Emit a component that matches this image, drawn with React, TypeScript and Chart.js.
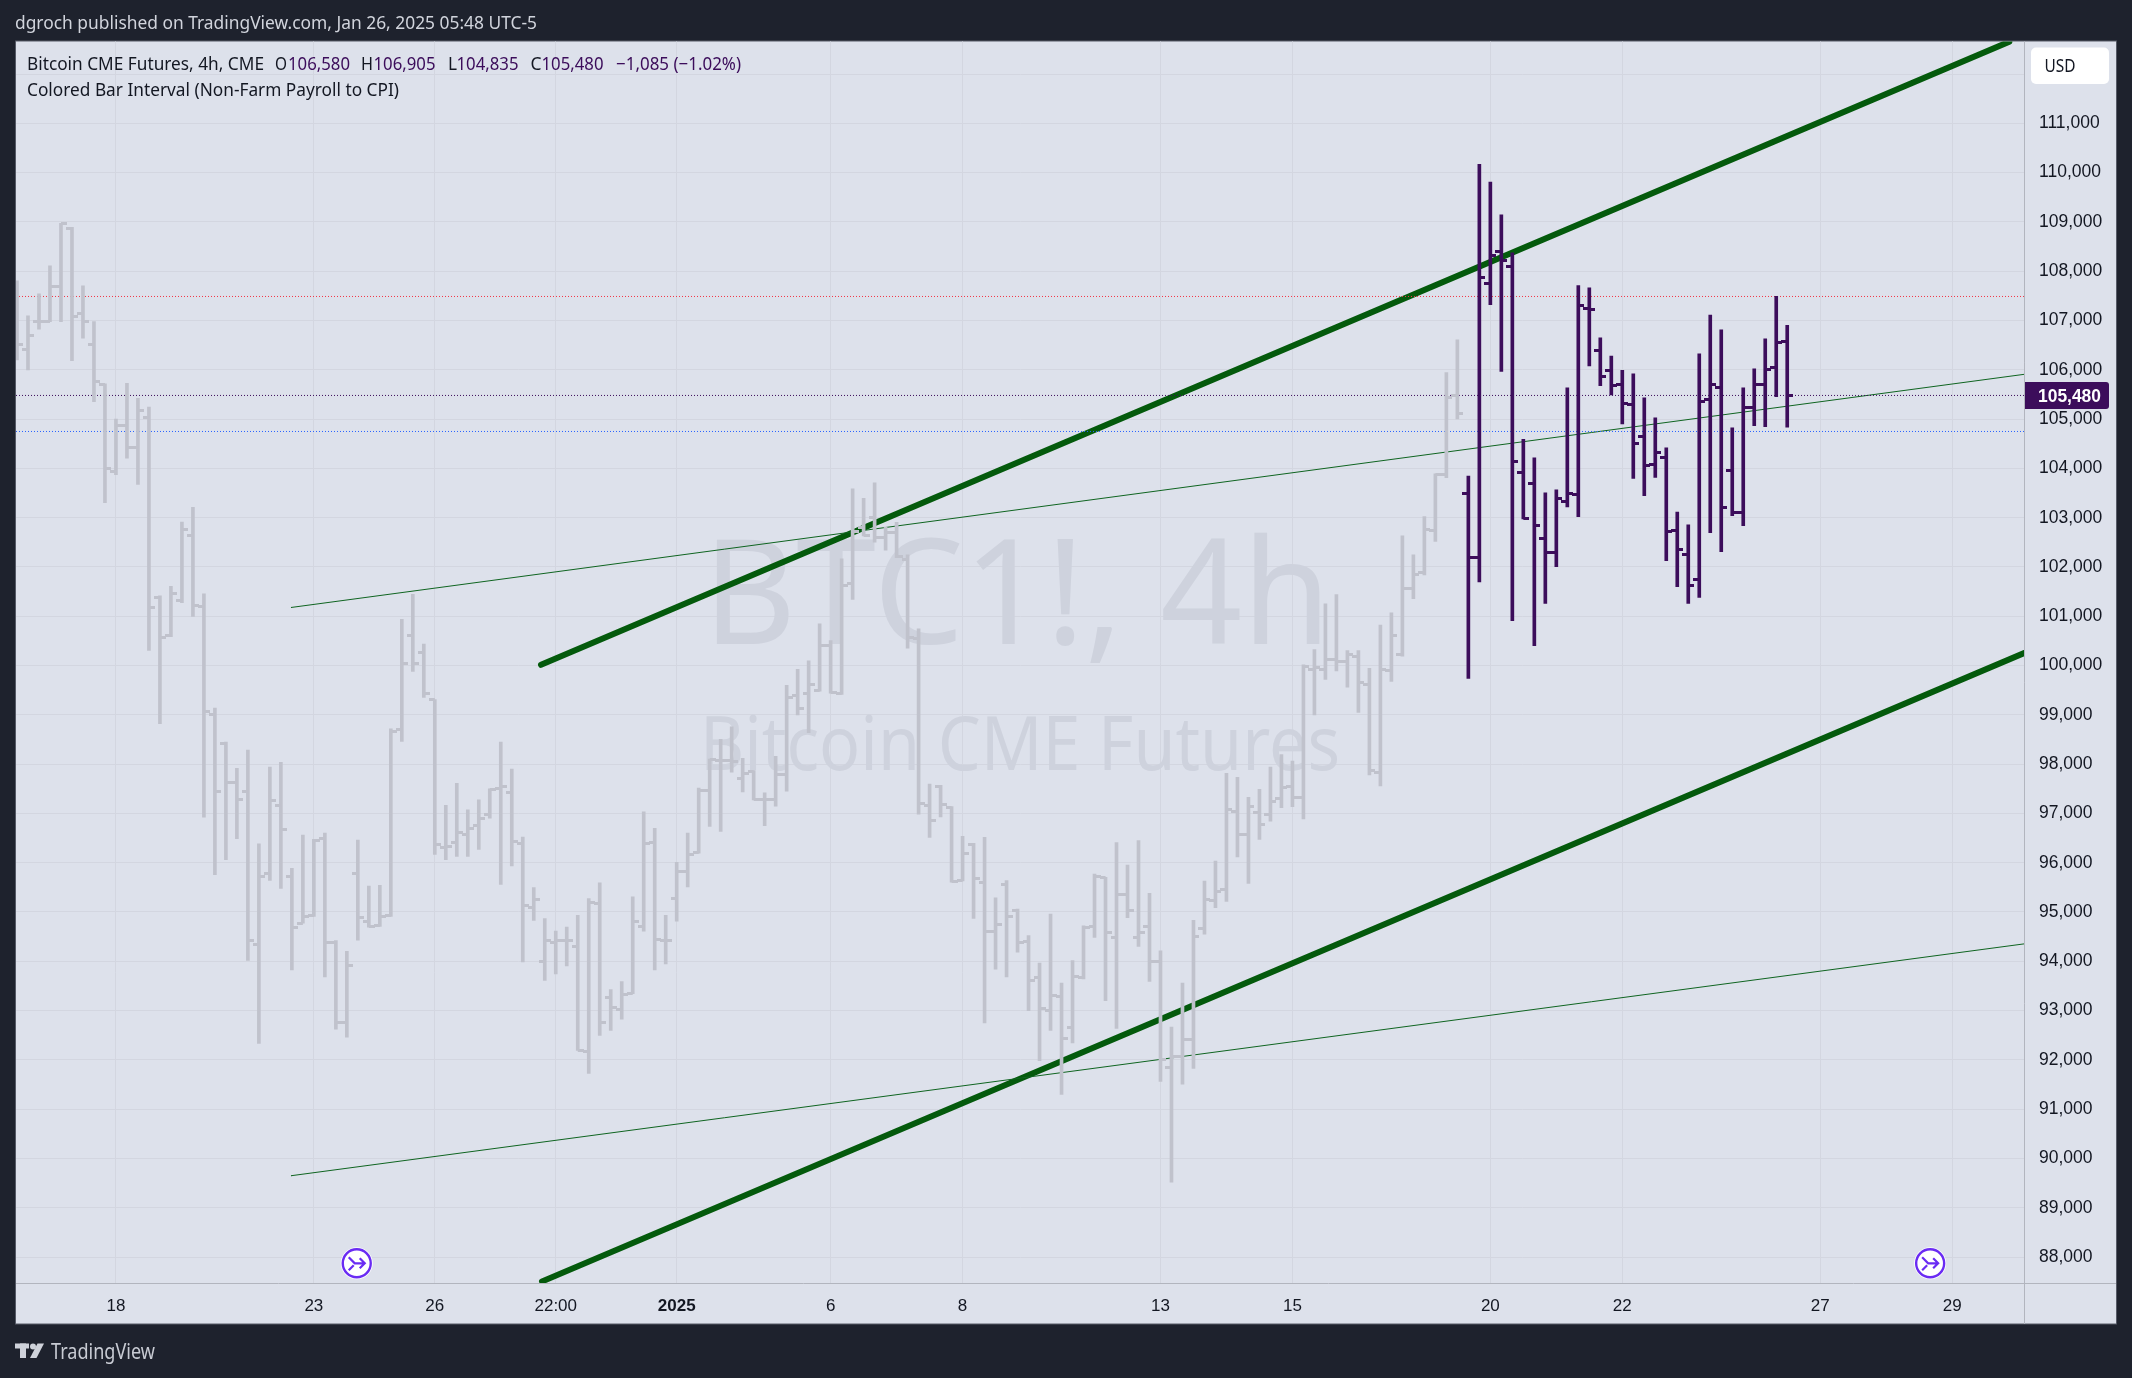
import React, { useEffect, useRef } from "react";
import { Chart, registerables } from "chart.js";

Chart.register(...registerables);

// Bars, oldest first (4h CME BTC1!). Index 132 onward is the coloured interval.
const opens = [
  106700,106404,106979,106979,107689,108872,107135,106506,105695,103931,104863,104423,105038,101390,100619,101325,
  102648,101205,98999,98414,97636,97435,94348,95791,97163,95727,94772,94925,96497,94372,92752,95791,
  94813,94732,94933,98694,100619,100274,99312,96312,96417,96577,96753,96970,97500,97419,96392,95085,
  93987,94388,94412,94307,92166,95174,93265,93024,93345,94708,96409,94428,95270,95815,96216,97475,
  98077,98077,97716,97860,97275,97291,97796,99384,99440,99496,100403,99440,101670,102809,103009,102608,
  102704,102151,100539,97170,97555,97130,95631,96369,95591,94612,95551,95029,94404,93666,92999,93285,
  92665,93675,94710,95703,94486,95355,94486,94710,93989,91853,92060,92416,94668,95231,95455,97036,
  96580,97011,96970,97301,97541,97326,99925,99925,100132,100074,100182,99619,97822,99892,100223,101564,
  101887,102739,103882,105484,103491,102202,107758,108403,108106,103919,103694,102586,102296,103332,103477,107244,
  106396,105990,105708,105302,104650,104085,104230,102745,102260,101753,105404,105650,103962,103107,105230,105708,
  106041,106580,
];
const highs = [
  107804,107094,107540,108108,108974,108893,107703,106979,105715,104998,105728,105424,105242,101413,101606,102913,
  103210,101453,99135,98446,97916,98285,96385,97940,98037,95887,96561,96473,96601,94420,94203,96457,
  95526,95542,98718,100940,101445,100435,99312,97163,97612,97074,97275,97500,98446,97900,96521,95494,
  94869,94612,94692,94933,95270,95591,93425,93586,95310,97034,96697,94933,96008,96601,97515,98100,
  98502,98758,98117,97868,97419,98157,99601,99921,100098,100844,100507,102167,103587,103394,103707,102809,
  102905,102247,100747,97596,97571,97138,96537,96394,96513,95286,95639,95061,94524,93963,94958,93558,
  94014,94718,95769,95703,96407,95951,96448,95380,94213,92665,93558,94833,95628,96034,97814,97731,
  97326,97491,97938,98195,98062,100016,100323,101250,101440,100306,100306,99942,100819,101068,102631,102245,
  103023,103888,105944,106606,103846,110170,109808,109142,108374,104592,104216,103506,103564,105636,107707,107664,
  106650,106280,105990,105918,105433,105027,104419,103115,102854,106324,107113,106809,104824,105636,106019,106628,
  107490,106905,
];
const lows = [
  106200,105999,106824,106979,106979,106188,106641,105356,103306,103875,104207,103675,100306,98823,100587,101277,
  100996,96922,95759,96064,96489,94019,92334,95639,95478,93826,94772,94909,93682,92623,92463,94428,
  94692,94708,94909,98462,99881,99352,96168,96064,96128,96128,96272,96906,95559,95936,93987,94829,
  93610,93746,93906,92190,91725,92495,92599,92824,93345,94612,93826,93947,94813,95510,96192,96737,
  96633,97836,97435,97275,96754,97146,97451,98999,98638,99480,99440,99416,101341,102632,102504,102343,
  102191,100354,96986,96513,96930,95607,95631,94869,92752,93842,93682,94187,93000,91982,92599,91299,
  92342,93642,94486,93203,92640,94883,94304,93592,91564,89518,91505,91828,94552,95090,95215,96117,
  95579,96473,96845,97119,97135,96887,98998,99718,99892,99561,99048,97781,97557,99677,100190,101357,
  101840,102516,103814,105004,99739,101695,107323,105969,100912,102977,100405,101260,102006,103216,103020,106077,
  105679,105491,104904,103796,103448,103817,102129,101601,101260,101383,102694,102311,103042,102839,104868,104846,
  105454,104835,
];
const closes = [
  106506,106695,106979,107689,108960,107081,106979,105755,104000,104863,104423,105167,101180,100571,101453,102768,
  101221,99071,97451,97636,97291,94412,95711,97259,96681,94692,94901,96457,94388,92752,93923,94885,
  94708,94901,98654,100034,100050,99432,96369,96336,96617,96689,96890,97491,97540,96433,95141,95246,
  94412,94412,94412,92198,95190,92767,93065,93329,94805,96393,94452,94412,95831,96168,97459,98093,
  98077,98045,97812,97275,97275,97796,99360,99135,99625,100403,99456,101622,102728,102648,102592,102704,
  102207,100579,97195,96850,97179,95623,96192,95671,94612,94748,94909,94372,93602,93040,93305,92424,
  93683,94693,95728,94594,95355,95024,94594,93989,92002,92060,92416,94511,95247,95421,97077,96580,
  97135,96779,97243,97524,97326,99975,99958,100132,100074,100223,99660,97864,99925,100612,101564,101853,
  102766,103868,105443,105119,102202,107874,108323,108222,104143,102984,102832,102296,103390,103499,107309,107229,
  105867,105672,105324,104505,104049,104332,102723,102361,101630,105360,105708,103216,103107,105230,105708,106012,
  106563,105480,
];
const colouredFrom = 132;

const priceTicks = [88000,89000,90000,91000,92000,93000,94000,95000,96000,97000,98000,99000,100000,101000,102000,103000,104000,105000,106000,107000,108000,109000,110000,111000,112000];
const timeTickIndex = [9, 27, 38, 49, 60, 74, 86, 104, 116, 134, 146, 164, 176];
const timeTickLabels = ["18", "23", "26", "22:00", "2025", "6", "8", "13", "15", "20", "22", "27", "29"];

// Trend lines as [bar index, price] end points
const upperThick = [[47.66, 100014], [181.2, 112657]];
const lowerThick = [[47.75, 87505], [182.6, 100257]];
const upperThin = [[24.92, 101178], [182.6, 105910]];
const lowerThin = [[24.92, 89649], [182.6, 94355]];

const redLevel = 107488;
const lastPrice = 105480;
const blueLevel = 104749;
const eventIndex = [30.9, 174.0];

const xMin = -0.09;
const xMax = 182.58;
const yMin = 87473;
const yMax = 112661;

const GRAY = "#c0c2cc";
const PURPLE = "#3c0d5b";
const GREEN = "#045a0c";
const THIN = "#0f6420";
const DARK = "#1e222d";
const PANE = "#dde1eb";
const GRID = "#d3d6e0";
const AXIS = "#b2b5be";
const INK = "#131722";
const UI_FONT = '"Noto Sans"';
const NUM_FONT = '"Liberation Sans"';

function tickImage(color: string, side: "left" | "right") {
  const c = document.createElement("canvas");
  c.width = 12;
  c.height = 3;
  const g = c.getContext("2d")!;
  g.fillStyle = color;
  if (side === "left") g.fillRect(0, 0, 6, 3);
  else g.fillRect(6, 0, 6, 3);
  return c;
}

function label(ctx: any, s: string, x: number, y: number, font: string, color: string, width?: number, align: any = "left") {
  ctx.font = font;
  ctx.fillStyle = color;
  ctx.textAlign = align;
  ctx.textBaseline = "alphabetic";
  if (width) ctx.fillText(s, x, y, width);
  else ctx.fillText(s, x, y);
}

const framePlugin = {
  id: "frame",
  beforeDraw(chart: any) {
    const { ctx } = chart;
    ctx.save();
    ctx.fillStyle = DARK;
    ctx.fillRect(0, 0, 2132, 1378);
    ctx.fillStyle = PANE;
    ctx.fillRect(15.5, 41, 2101, 1283);
    ctx.strokeStyle = "#565a66";
    ctx.lineWidth = 1;
    ctx.strokeRect(15.5, 41, 2101, 1283);
    ctx.restore();
  },
  beforeDatasetsDraw(chart: any) {
    const { ctx } = chart;
    ctx.save();
    const wm = "#ced2dd";
    label(ctx, "BTC1!, 4h", 703, 644, `146px ${UI_FONT}`, wm, 628);
    label(ctx, "Bitcoin CME Futures", 700, 770, `74px ${UI_FONT}`, wm, 640);
    ctx.restore();
  },
  afterDraw(chart: any) {
    const { ctx, scales } = chart;
    ctx.save();
    // axis rules
    ctx.strokeStyle = AXIS;
    ctx.lineWidth = 1;
    ctx.beginPath();
    ctx.moveTo(16, 1283.5);
    ctx.lineTo(2116, 1283.5);
    ctx.moveTo(2024.5, 41.5);
    ctx.lineTo(2024.5, 1324);
    ctx.stroke();

    // event markers
    for (const idx of eventIndex) {
      const cx = scales.x.getPixelForValue(idx);
      const cy = 1263.3;
      ctx.beginPath();
      ctx.arc(cx, cy, 16, 0, Math.PI * 2);
      ctx.fillStyle = "#ffffff";
      ctx.fill();
      ctx.beginPath();
      ctx.arc(cx, cy, 14, 0, Math.PI * 2);
      ctx.strokeStyle = "#6a2bf3";
      ctx.lineWidth = 2.4;
      ctx.stroke();
      ctx.lineWidth = 2.2;
      ctx.beginPath();
      ctx.moveTo(cx - 8, cy - 6);
      ctx.lineTo(cx - 2, cy);
      ctx.lineTo(cx + 8, cy);
      ctx.moveTo(cx + 3, cy - 5);
      ctx.lineTo(cx + 8, cy);
      ctx.lineTo(cx + 3, cy + 5);
      ctx.moveTo(cx - 8, cy + 7);
      ctx.lineTo(cx - 3, cy + 2);
      ctx.stroke();
    }

    // last price tag
    const py = scales.y.getPixelForValue(lastPrice);
    ctx.fillStyle = PURPLE;
    ctx.beginPath();
    ctx.roundRect(2025, py - 13.5, 84, 27, [0, 3, 3, 0]);
    ctx.fill();
    label(ctx, "105,480", 2101, py + 6.5, `bold 18px ${NUM_FONT}`, "#ffffff", 63, "right");

    // currency box
    ctx.fillStyle = "#ffffff";
    ctx.beginPath();
    ctx.roundRect(2031, 47.5, 78, 36.5, 5);
    ctx.fill();
    label(ctx, "USD", 2044.5, 72, `17.5px ${UI_FONT}`, INK, 31);

    // header and footer
    label(ctx, "dgroch published on TradingView.com, Jan 26, 2025 05:48 UTC-5", 15, 29, `18px ${UI_FONT}`, "#d1d4dc", 522);
    ctx.fillStyle = "#cfd2da";
    ctx.fillRect(15, 1343.5, 14, 5);
    ctx.fillRect(20, 1343.5, 6, 14.5);
    ctx.beginPath();
    ctx.arc(33, 1346.5, 3, 0, Math.PI * 2);
    ctx.fill();
    ctx.beginPath();
    ctx.moveTo(37.5, 1343.5);
    ctx.lineTo(44, 1343.5);
    ctx.lineTo(36.5, 1358);
    ctx.lineTo(30, 1358);
    ctx.closePath();
    ctx.fill();
    label(ctx, "TradingView", 51, 1359, `21px ${UI_FONT}`, "#c8cbd3", 104);

    // legend
    const y1 = 70;
    const y2 = 96;
    const f = `18px ${UI_FONT}`;
    label(ctx, "Bitcoin CME Futures, 4h, CME", 27, y1, f, INK, 237);
    label(ctx, "O", 275, y1, f, INK, 12);
    label(ctx, "106,580", 288, y1, f, PURPLE, 62);
    label(ctx, "H", 361, y1, f, INK, 12);
    label(ctx, "106,905", 373.5, y1, f, PURPLE, 62);
    label(ctx, "L", 448, y1, f, INK, 9);
    label(ctx, "104,835", 456.5, y1, f, PURPLE, 62);
    label(ctx, "C", 530.5, y1, f, INK, 11);
    label(ctx, "105,480", 541.5, y1, f, PURPLE, 62);
    label(ctx, "\u22121,085 (\u22121.02%)", 616, y1, f, PURPLE, 125);
    label(ctx, "Colored Bar Interval (Non-Farm Payroll to CPI)", 27, y2, f, INK, 372);
    ctx.restore();
  },
};

export default function App() {
  const ref = useRef<HTMLCanvasElement | null>(null);

  useEffect(() => {
    document.body.style.margin = "0";
    document.body.style.background = DARK;
    const idx = opens.map((_, i) => i);
    const gray = idx.filter((i) => i < colouredFrom);
    const purple = idx.filter((i) => i >= colouredFrom);

    const hiLo = (list: number[], color: string, name: string) => ({
      type: "bar" as const,
      label: name,
      data: list.map((i) => ({ x: i, y: [lows[i], highs[i]] })),
      backgroundColor: color,
      barThickness: 3,
      grouped: false,
      order: 2,
    });
    const ticks = (list: number[], source: number[], color: string, side: "left" | "right", name: string) => ({
      type: "scatter" as const,
      label: name,
      data: list.map((i) => ({ x: i, y: source[i] })),
      pointStyle: tickImage(color, side),
      pointRadius: 1,
      order: 1,
    });
    const line = (pts: number[][], color: string, width: number, name: string, dash?: number[]) => ({
      type: "line" as const,
      label: name,
      data: pts.map(([x, y]) => ({ x, y })),
      borderColor: color,
      borderWidth: width,
      borderDash: dash || [],
      borderCapStyle: (dash ? "butt" : "round") as any,
      pointRadius: 0,
      tension: 0,
      order: 5,
    });

    const chart = new Chart(ref.current!, {
      type: "bar",
      data: {
        datasets: [
          line([[xMin, redLevel], [xMax, redLevel]], "#f23645", 1, "High", [1, 2]),
          line([[xMin, lastPrice], [xMax, lastPrice]], PURPLE, 1, "Last", [1, 2]),
          line([[xMin, blueLevel], [xMax, blueLevel]], "#2962ff", 1, "Low", [1, 2]),
          line(upperThin, THIN, 1, "Upper thin"),
          line(lowerThin, THIN, 1, "Lower thin"),
          line(upperThick, GREEN, 6, "Upper channel"),
          line(lowerThick, GREEN, 6, "Lower channel"),
          hiLo(gray, GRAY, "High-low"),
          hiLo(purple, PURPLE, "High-low interval"),
          ticks(gray, opens, GRAY, "left", "Open"),
          ticks(gray, closes, GRAY, "right", "Close"),
          ticks(purple, opens, PURPLE, "left", "Open interval"),
          ticks(purple, closes, PURPLE, "right", "Close interval"),
        ] as any,
      },
      options: {
        responsive: false,
        animation: false,
        devicePixelRatio: 1,
        layout: { padding: { left: 16, right: 15.5, top: 41.5, bottom: 54 } },
        plugins: { legend: { display: false }, tooltip: { enabled: false }, title: { display: false } },
        events: [],
        scales: {
          x: {
            type: "linear",
            min: xMin,
            max: xMax,
            offset: false,
            grid: { color: GRID, lineWidth: 1, drawTicks: false, offset: false },
            border: { display: false },
            afterFit(s: any) {
              s.height = 41;
            },
            afterBuildTicks(s: any) {
              s.ticks = timeTickIndex.map((value) => ({ value }));
            },
            ticks: {
              autoSkip: false,
              maxRotation: 0,
              minRotation: 0,
              padding: 13,
              color: INK,
              font: (c: any) => ({
                family: NUM_FONT,
                size: 17,
                weight: c.tick && c.tick.value === 60 ? "bold" : "normal",
              }),
              callback: (v: any) => {
                const k = timeTickIndex.indexOf(Number(v));
                return k >= 0 ? timeTickLabels[k] : "";
              },
            },
          },
          y: {
            type: "linear",
            position: "right",
            min: yMin,
            max: yMax,
            grid: { color: GRID, lineWidth: 1, drawTicks: false },
            border: { display: false },
            afterFit(s: any) {
              s.width = 92;
            },
            afterBuildTicks(s: any) {
              s.ticks = priceTicks.map((value) => ({ value }));
            },
            ticks: {
              autoSkip: false,
              padding: 14.5,
              color: INK,
              font: { family: NUM_FONT, size: 17.5 },
              callback: (v: any) => (Number(v) === 112000 ? "" : Number(v).toLocaleString("en-US")),
            },
          },
        },
      } as any,
      plugins: [framePlugin],
    });
    return () => chart.destroy();
  }, []);

  return (
    <div style={{ position: "absolute", left: 0, top: 0, width: 2132, height: 1378, overflow: "hidden" }}>
      <canvas ref={ref} width={2132} height={1378} style={{ display: "block" }} />
    </div>
  );
}
